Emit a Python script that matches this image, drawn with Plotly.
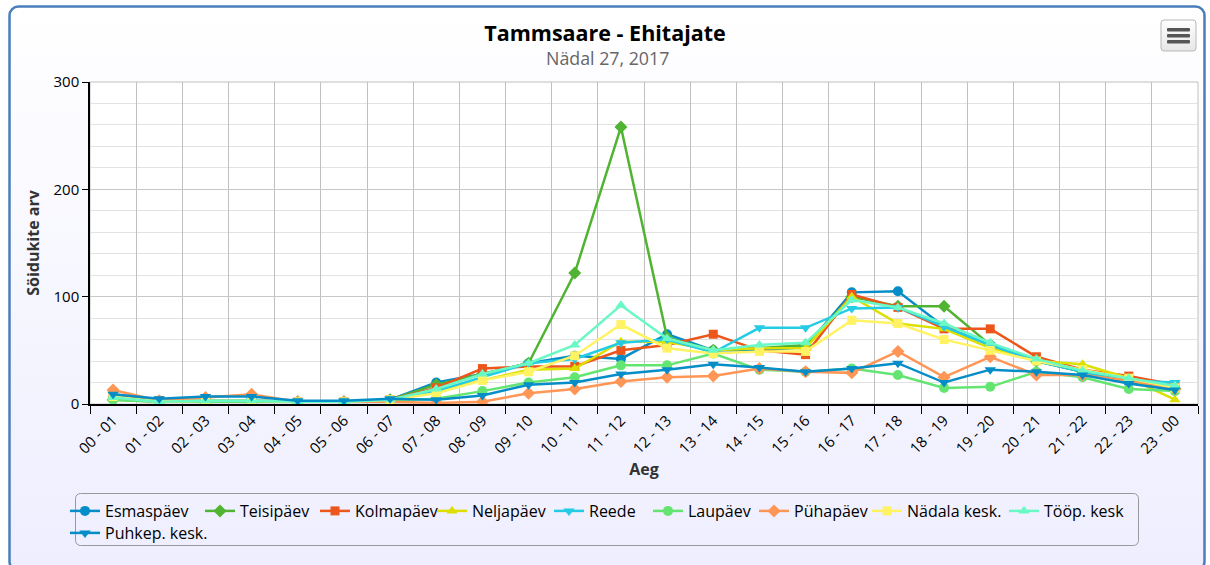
import base64
import plotly.graph_objects as go

# ---------------- data ----------------
hours = ["00 - 01", "01 - 02", "02 - 03", "03 - 04", "04 - 05", "05 - 06", "06 - 07", "07 - 08",
         "08 - 09", "09 - 10", "10 - 11", "11 - 12", "12 - 13", "13 - 14", "14 - 15", "15 - 16",
         "16 - 17", "17 - 18", "18 - 19", "19 - 20", "20 - 21", "21 - 22", "22 - 23", "23 - 00"]

series_names = ["Esmaspäev", "Teisipäev", "Kolmapäev", "Neljapäev", "Reede", "Laupäev",
                "Pühapäev", "Nädala kesk.", "Tööp. kesk", "Puhkep. kesk."]

esmaspaev  = [5, 3, 3, 3, 2, 2, 4, 20, 28, 38, 45, 42, 65, 50, 50, 53, 104, 105, 72, 55, 40, 30, 20, 15]
teisipaev  = [4, 2, 2, 2, 2, 2, 4, 18, 28, 38, 122, 258, 62, 50, 52, 55, 100, 91, 91, 55, 40, 30, 22, 14]
kolmapaev  = [9, 3, 3, 3, 2, 2, 4, 15, 33, 35, 35, 50, 55, 65, 50, 46, 102, 90, 70, 70, 44, 32, 26, 18]
neljapaev  = [6, 2, 2, 2, 2, 2, 4, 12, 22, 32, 33, 58, 58, 50, 52, 52, 100, 75, 70, 52, 40, 37, 24, 4]
reede      = [5, 3, 3, 3, 2, 2, 4, 12, 25, 38, 42, 57, 60, 48, 71, 71, 89, 90, 72, 55, 40, 30, 22, 20]
laupaev    = [4, 2, 2, 2, 2, 2, 3, 5, 12, 20, 25, 36, 36, 47, 32, 30, 33, 27, 15, 16, 30, 25, 14, 12]
puhapaev   = [13, 3, 6, 9, 2, 2, 2, 1, 2, 10, 14, 21, 25, 26, 33, 30, 29, 49, 25, 44, 27, 27, 22, 14]
nadala     = [7, 2, 3, 3, 2, 2, 4, 10, 22, 30, 45, 74, 52, 47, 49, 49, 78, 75, 60, 50, 40, 32, 24, 15]
toop       = [6, 2, 3, 3, 2, 2, 4, 14, 28, 38, 55, 92, 61, 50, 55, 57, 97, 90, 75, 57, 42, 31, 24, 17]
puhkep     = [9, 5, 7, 7, 3, 3, 5, 4, 8, 18, 20, 28, 32, 37, 34, 30, 33, 38, 20, 32, 30, 27, 19, 13]

all_values = [esmaspaev, teisipaev, kolmapaev, neljapaev, reede, laupaev, puhapaev, nadala, toop, puhkep]

y_ticks = [0, 100, 200, 300]

# ---------------- styles ----------------
colors = ["#058DC7", "#50B432", "#ED561B", "#DDDF00", "#24CBE5", "#64E572",
          "#FF9655", "#FFF263", "#6AF9C4", "#058DC7"]
symbols = ["circle", "diamond", "square", "triangle-up", "triangle-down",
           "circle", "diamond", "square", "triangle-up", "triangle-down"]
msize = {"circle": 10, "diamond": 10, "square": 9, "triangle-up": 10, "triangle-down": 10}

# legend entry placement (page pixels): where each entry's text starts, and row centre
legend_text_x = [104, 239, 354, 471, 588, 687, 793, 906, 1043, 104]
legend_row_y = [511] * 9 + [533]

FONT = "Open Sans"
W, H = 1210, 565
L, R, T, B = 90, 12, 82, 161
PW, PH = W - L - R, H - T - B


def px_x(px):
    return (px - L) / PW


def px_y(py):
    return (H - B - py) / PH


legend_ids = ["legend"] + [f"legend{i}" for i in range(2, len(series_names) + 1)]

fig = go.Figure()
for name, vals, c, s, lg in zip(series_names, all_values, colors, symbols, legend_ids):
    fig.add_trace(go.Scatter(
        x=hours, y=vals, name=name, mode="lines+markers", legend=lg,
        line=dict(color=c, width=2.5),
        marker=dict(color=c, symbol=s, size=msize[s]),
    ))

# ---------------- background (container gradient, border, menu button, legend box) ----------------
bx0, by0, bx1, by1 = 8, 5, 1206, 572
bw, bh = bx1 - bx0, by1 - by0
mx0, my0, mw, mh = 1161 - bx0, 20 - by0, 35, 31
lx0, ly0, lw, lh = 75.5 - bx0, 493.5 - by0, 1063, 52
svg = f'''<svg xmlns="http://www.w3.org/2000/svg" width="{bw}" height="{bh}" viewBox="0 0 {bw} {bh}" preserveAspectRatio="none">
<defs>
<linearGradient id="g" x1="0" y1="0" x2="0" y2="1">
<stop offset="0" stop-color="#ffffff"/><stop offset="1" stop-color="rgb(238,238,255)"/>
</linearGradient>
<linearGradient id="m" x1="0" y1="0" x2="0" y2="1">
<stop offset="0" stop-color="#ffffff"/><stop offset="1" stop-color="#e6e6e6"/>
</linearGradient>
</defs>
<rect x="1.5" y="1.5" width="{bw-3}" height="{bh-3}" rx="9" ry="9" fill="url(#g)" stroke="#4A7EBB" stroke-width="2.5"/>
<rect x="{mx0}" y="{my0}" width="{mw}" height="{mh}" rx="3" ry="3" fill="url(#m)" stroke="#b8b8b8" stroke-width="1"/>
<rect x="{mx0+6}" y="{my0+8}" width="{mw-12}" height="3.5" rx="1" fill="#555"/>
<rect x="{mx0+6}" y="{my0+14}" width="{mw-12}" height="3.5" rx="1" fill="#555"/>
<rect x="{mx0+6}" y="{my0+20}" width="{mw-12}" height="3.5" rx="1" fill="#555"/>
<rect x="{lx0}" y="{ly0}" width="{lw}" height="{lh}" rx="5" ry="5" fill="none" stroke="#999999" stroke-width="1"/>
</svg>'''
src = "data:image/svg+xml;base64," + base64.b64encode(svg.encode("utf-8")).decode("ascii")

fig.add_layout_image(dict(
    source=src, xref="paper", yref="paper",
    x=px_x(bx0), y=px_y(by0), sizex=bw / PW, sizey=bh / PH,
    xanchor="left", yanchor="top", sizing="stretch", layer="below",
))

# white plot area with light border
fig.add_shape(type="rect", xref="paper", yref="paper", x0=0, y0=0, x1=1, y1=1,
              fillcolor="white", line=dict(color="#C0C0C0", width=1), layer="below")

legend_font = dict(family=FONT, size=16, color="#000")
legends = {}
for lg, tx, ry in zip(legend_ids, legend_text_x, legend_row_y):
    legends[lg] = dict(orientation="h", x=px_x(tx - 39), xanchor="left", y=px_y(ry),
                       yanchor="middle", borderwidth=0, bgcolor="rgba(0,0,0,0)",
                       font=legend_font, itemwidth=30, tracegroupgap=0)

fig.update_layout(
    width=W, height=H,
    margin=dict(l=L, r=R, t=T, b=B, autoexpand=False),
    paper_bgcolor="white", plot_bgcolor="rgba(0,0,0,0)",
    font=dict(family=FONT, size=15, color="#000"),
    title=dict(text="<b>Tammsaare - Ehitajate</b>", x=0.5, xref="container", xanchor="center",
               y=1 - 33 / H, yref="container", yanchor="middle",
               font=dict(family=FONT, size=21.5, color="#000")),
    annotations=[dict(text="Nädal 27, 2017", xref="paper", yref="paper",
                      x=px_x(607), y=px_y(57.5), xanchor="center", yanchor="middle",
                      showarrow=False, font=dict(family=FONT, size=17.8, color="#666666"))],
    showlegend=True,
    xaxis=dict(type="category", range=[-0.5, len(hours) - 0.5], tickson="boundaries",
               ticks="outside", ticklen=8, tickcolor="#000", tickwidth=1,
               showline=True, linecolor="#000", linewidth=1.5,
               showgrid=True, gridcolor="#C0C0C0", gridwidth=1,
               tickangle=-45, tickfont=dict(family=FONT, size=15, color="#000"),
               title=dict(text="<b>Aeg</b>", font=dict(family=FONT, size=16, color="#333"), standoff=6)),
    yaxis=dict(range=[0, 300], tickvals=y_ticks, ticks="outside", ticklen=6, tickcolor="#000",
               showline=True, linecolor="#000", linewidth=1.5, zeroline=False,
               showgrid=True, gridcolor="#C8C8C8", gridwidth=1,
               minor=dict(dtick=20, showgrid=True, gridcolor="#E2E2E2", ticks=""),
               tickfont=dict(family=FONT, size=15, color="#000"),
               title=dict(text="<b>Söidukite arv</b>", font=dict(family=FONT, size=16, color="#333"), standoff=10)),
    **legends,
)

fig.write_html("out.html", config={"displayModeBar": False},
               post_script="document.body.style.margin='0';document.body.style.overflow='hidden';")
